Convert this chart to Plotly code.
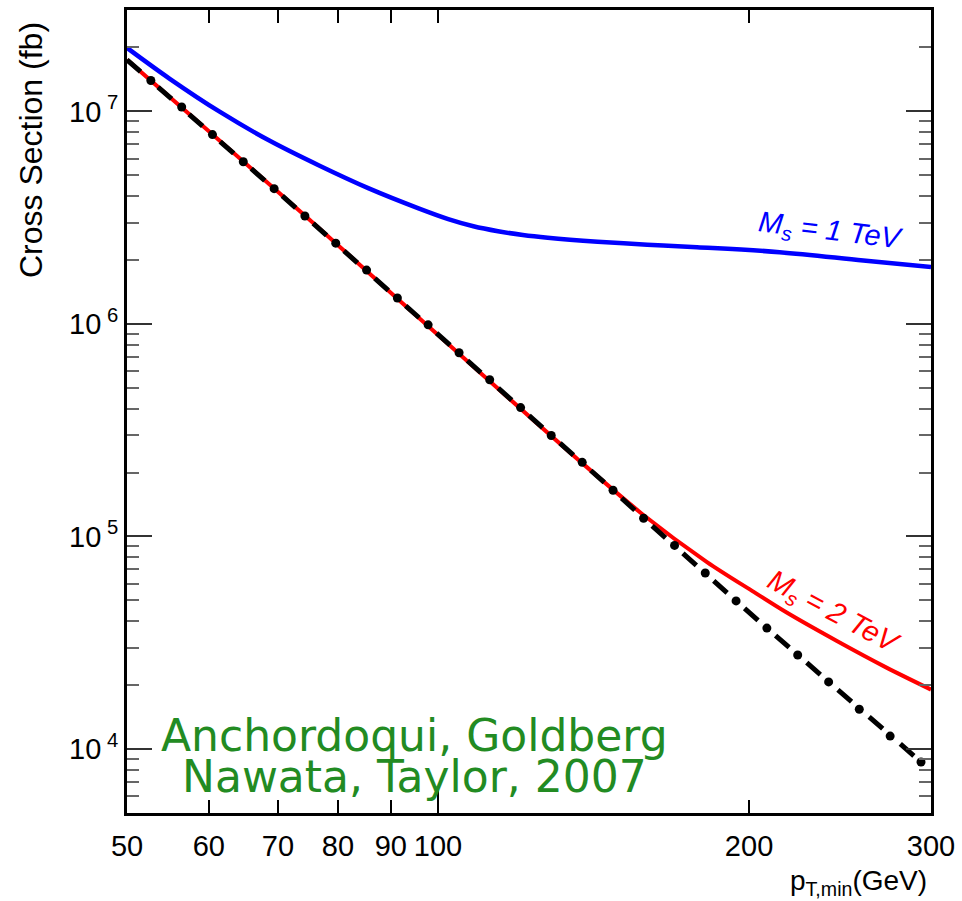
import math
import plotly.graph_objects as go

# ---------------- data ----------------
# M_s = 1 TeV (blue)
pt_ms1 = [50, 55.0, 61.46, 68.66, 76.71, 85.70, 95.75, 102.3, 108.2, 114.3,
          120.8, 127.7, 142.7, 159.4, 178.1, 214.1, 258.0, 300]
xs_ms1 = [1.990e7, 1.424e7, 9.97e6, 7.291e6, 5.566e6, 4.343e6, 3.499e6, 3.115e6,
          2.882e6, 2.731e6, 2.621e6, 2.545e6, 2.438e6, 2.360e6, 2.297e6, 2.177e6,
          1.988e6, 1.851e6]

# M_s = 2 TeV (red)
pt_ms2 = [50, 60.51, 74.36, 91.18, 111.8, 137.1, 157.7, 182.1, 202.1, 217.5,
          243.0, 271.4, 300]
xs_ms2 = [1.748e7, 7.78e6, 3.228e6, 1.325e6, 5.465e5, 2.268e5, 1.273e5, 7.580e4,
          5.484e4, 4.385e4, 3.231e4, 2.422e4, 1.904e4]

# Standard model (black dash-dot with dots)
pt_sm_start = 50
xs_sm_start = 1.748e7
pt_sm = [52.73, 56.48, 60.49, 64.79, 69.40, 74.33, 79.62, 85.28, 91.34, 97.82,
         104.8, 112.2, 120.2, 128.7, 137.9, 147.7, 158.1, 169.4, 181.4, 194.3,
         208.1, 222.9, 238.8, 255.7, 273.9, 293.4]
xs_sm = [1.398e7, 1.049e7, 7.780e6, 5.794e6, 4.329e6, 3.220e6, 2.399e6, 1.792e6,
         1.325e6, 9.90e5, 7.315e5, 5.465e5, 4.041e5, 2.987e5, 2.232e5, 1.650e5,
         1.219e5, 9.08e4, 6.733e4, 4.977e4, 3.707e4, 2.769e4, 2.069e4, 1.539e4,
         1.150e4, 8.69e3]

# axis ticks
x_tickvals = [50, 60, 70, 80, 90, 100, 200, 300]
x_ticktext = ["50", "60", "70", "80", "90", "100", "200", "300"]
y_tickvals = [1e4, 1e5, 1e6, 1e7]
y_ticktext = ["10<sup> 4</sup>", "10<sup> 5</sup>", "10<sup> 6</sup>", "10<sup> 7</sup>"]
y_minor_vals = [m * 10 ** e for e in range(3, 8) for m in range(2, 10)]

X_RANGE = [math.log10(50), math.log10(300)]
Y_RANGE = [math.log10(5000), math.log10(3.0e7)]

AX_FONT = "Liberation Sans"

fig = go.Figure()

fig.add_trace(go.Scatter(x=pt_ms1, y=xs_ms1, mode="lines",
                         line=dict(color="#0000ff", width=4.5, shape="spline", smoothing=1.0),
                         hoverinfo="skip"))
fig.add_trace(go.Scatter(x=pt_ms2, y=xs_ms2, mode="lines",
                         line=dict(color="#ff0000", width=4, shape="spline", smoothing=0.8),
                         hoverinfo="skip"))
fig.add_trace(go.Scatter(x=[pt_sm_start] + pt_sm, y=[xs_sm_start] + xs_sm, mode="lines",
                         line=dict(color="black", width=5, dash="18px,23.3px"),
                         hoverinfo="skip"))
fig.add_trace(go.Scatter(x=pt_sm, y=xs_sm, mode="markers",
                         marker=dict(color="black", size=9),
                         hoverinfo="skip"))
# empty trace to carry the overlay axis used for the long tick at 100
fig.add_trace(go.Scatter(x=[], y=[], xaxis="x2", yaxis="y", showlegend=False))

fig.update_layout(
    width=962, height=901,
    margin=dict(l=127, r=28, t=7, b=88),
    paper_bgcolor="white", plot_bgcolor="white",
    showlegend=False,
    xaxis=dict(
        type="log", range=X_RANGE,
        tickmode="array", tickvals=x_tickvals, ticktext=x_ticktext,
        ticks="inside", ticklen=13, tickwidth=1.5, tickcolor="black",
        showline=True, linewidth=3, linecolor="black", mirror="ticks",
        showgrid=False, zeroline=False,
        tickfont=dict(family=AX_FONT, size=29, color="black"),
        ticklabelstandoff=5,
    ),
    xaxis2=dict(
        type="log", range=X_RANGE, overlaying="x", anchor="y", side="bottom",
        tickmode="array", tickvals=[100],
        ticks="inside", ticklen=26, tickwidth=1.5, tickcolor="black",
        showticklabels=False, showline=False, showgrid=False, zeroline=False,
    ),
    yaxis=dict(
        type="log", range=Y_RANGE,
        tickmode="array", tickvals=y_tickvals, ticktext=y_ticktext,
        ticks="inside", ticklen=25, tickwidth=1.5, tickcolor="#333333",
        showline=True, linewidth=3, linecolor="black", mirror="ticks",
        showgrid=False, zeroline=False,
        tickfont=dict(family=AX_FONT, size=29, color="black"),
        minor=dict(tickvals=y_minor_vals, ticks="inside", ticklen=12,
                   tickwidth=1.5, tickcolor="#666666", showgrid=False),
    ),
)

annotations = [
    dict(text="Cross Section (fb)", xref="paper", yref="paper",
         x=-0.12, y=0.825, textangle=-90, showarrow=False,
         xanchor="center", yanchor="middle",
         font=dict(family=AX_FONT, size=32, color="black")),
    dict(text="p<sub>T,min</sub>(GeV)", xref="paper", yref="paper",
         x=0.998, y=-0.087, showarrow=False, xanchor="right", yanchor="middle",
         font=dict(family=AX_FONT, size=28, color="black")),
    dict(text="<i>M<sub>s</sub> = 1 TeV</i>", xref="x", yref="y",
         x=math.log10(240), y=6.432, textangle=7, showarrow=False,
         xanchor="center", yanchor="middle",
         font=dict(family=AX_FONT, size=29, color="#0000ff")),
    dict(text="<i>M<sub>s</sub> = 2 TeV</i>", xref="x", yref="y",
         x=math.log10(241.2), y=4.642, textangle=28, showarrow=False,
         xanchor="center", yanchor="middle",
         font=dict(family=AX_FONT, size=29, color="#ff0000")),
    dict(text="Anchordoqui, Goldberg", xref="paper", yref="paper",
         x=0.358, y=0.0968, showarrow=False, xanchor="center", yanchor="middle",
         font=dict(family="DejaVu Sans", size=44, color="#228b22")),
    dict(text="Nawata, Taylor, 2007", xref="paper", yref="paper",
         x=0.358, y=0.0459, showarrow=False, xanchor="center", yanchor="middle",
         font=dict(family="DejaVu Sans", size=44, color="#228b22")),
]
fig.update_layout(annotations=annotations)

fig.write_html("out.html")
